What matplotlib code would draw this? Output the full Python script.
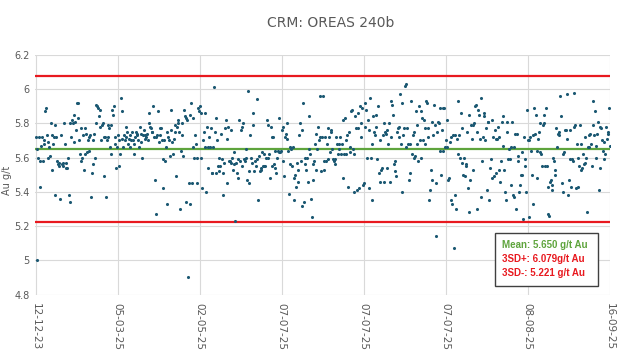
import numpy as np
import matplotlib
matplotlib.use("Agg")
import matplotlib.pyplot as plt
from matplotlib.patches import Rectangle

title = "CRM: OREAS 240b"
y_label = "Au g/t"
tick_labels = ["12-12-23", "05-03-25", "02-05-25", "07-07-25", "07-07-25",
               "07-07-25", "08-08-25", "16-09-25"]
mean_val = 5.650
sd3_plus = 6.079
sd3_minus = 5.221

seg1 = [5.72, 5.65, 5.00, 5.60, 5.72, 5.58, 5.43, 5.67, 5.72, 5.58, 5.70, 5.68, 5.87, 5.89, 5.73, 5.60,
        5.69, 5.66, 5.61, 5.80, 5.53, 5.73, 5.68, 5.72, 5.79, 5.38, 5.72, 5.58, 5.56, 5.57, 5.55, 5.36,
        5.73, 5.56, 5.57, 5.55, 5.80, 5.68, 5.54, 5.57, 5.54, 5.60, 5.38, 5.34, 5.80, 5.72, 5.82, 5.80,
        5.69, 5.85, 5.81, 5.76, 5.92, 5.83, 5.92, 5.70, 5.62, 5.58, 5.77, 5.60, 5.73, 5.53, 5.62, 5.77,
        5.74, 5.63, 5.70, 5.72, 5.64, 5.73, 5.37, 5.51, 5.70, 5.56, 5.74, 5.60, 5.91, 5.80, 5.90, 5.89,
        5.84, 5.78, 5.88, 5.70, 5.79, 5.80, 5.49, 5.72, 5.72, 5.37, 5.70, 5.72, 5.79, 5.77, 5.66, 5.62,
        5.79, 5.88, 5.85, 5.90, 5.72, 5.68, 5.54, 5.66, 5.73, 5.70, 5.55, 5.62, 5.95, 5.87, 5.71, 5.66]
seg2 = [5.73, 5.70, 5.78, 5.72, 5.75, 5.68, 5.71, 5.73, 5.66, 5.70, 5.75, 5.70, 5.62, 5.68, 5.72, 5.75,
        5.73, 5.74, 5.70, 5.66, 5.78, 5.74, 5.69, 5.60, 5.73, 5.76, 5.71, 5.73, 5.72, 5.74, 5.70, 5.86,
        5.80, 5.78, 5.77, 5.75, 5.75, 5.90, 5.72, 5.47, 5.72, 5.27, 5.73, 5.87, 5.69, 5.73, 5.77, 5.77,
        5.70, 5.42, 5.59, 5.70, 5.58, 5.66, 5.33, 5.75, 5.72, 5.70, 5.61, 5.76, 5.88, 5.69, 5.62, 5.71,
        5.79, 5.75, 5.49, 5.78, 5.80, 5.82, 5.75, 5.30, 5.64, 5.80, 5.73, 5.61, 5.88, 5.84, 5.83, 5.34,
        5.82, 4.90, 5.45, 5.33, 5.85, 5.92, 5.45, 5.83, 5.66, 5.60, 5.73, 5.68, 5.60, 5.45, 5.89, 5.87,
        5.90, 5.60, 5.86, 5.42, 5.70, 5.75, 5.66]
seg3 = [5.86, 5.40, 5.78, 5.66, 5.54, 5.72, 5.66, 5.77, 5.51, 5.51, 5.66, 6.01, 5.75, 5.51, 5.83, 5.70,
        5.55, 5.52, 5.60, 5.55, 5.74, 5.59, 5.38, 5.51, 5.57, 5.77, 5.82, 5.45, 5.71, 5.78, 5.58, 5.58,
        5.57, 5.76, 5.60, 5.53, 5.63, 5.56, 5.23, 5.57, 5.51, 5.59, 5.48, 5.82, 5.58, 5.76, 5.55, 5.78,
        5.80, 5.59, 5.58, 5.65, 5.60, 5.47, 5.99, 5.52, 5.45, 5.73, 5.60, 5.57, 5.79, 5.86, 5.52, 5.58,
        5.55, 5.94, 5.59, 5.35, 5.61, 5.52, 5.53, 5.54, 5.63, 5.55, 5.62, 5.55, 5.55, 5.60, 5.82, 5.60,
        5.79, 5.62, 5.48, 5.78, 5.55, 5.72, 5.72, 5.56, 5.54, 5.64, 5.51, 5.60, 5.64, 5.83, 5.63, 5.63,
        5.64, 5.76, 5.58, 5.78, 5.49, 5.72, 5.74, 5.71, 5.80, 5.64, 5.39, 5.56, 5.66, 5.65, 5.55]
seg4 = [5.66, 5.35, 5.48, 5.50, 5.43, 5.57, 5.46, 5.53, 5.73, 5.80, 5.58, 5.76, 5.32, 5.92, 5.34, 5.60,
        5.56, 5.53, 5.60, 5.46, 5.65, 5.84, 5.62, 5.36, 5.25, 5.56, 5.47, 5.58, 5.68, 5.53, 5.74, 5.65,
        5.78, 5.70, 5.96, 5.72, 5.52, 5.72, 5.96, 5.53, 5.58, 5.72, 5.58, 5.68, 5.59, 5.77, 5.72, 5.63,
        5.76, 5.75, 5.65, 5.59, 5.58, 5.56, 5.59, 5.72, 5.68, 5.62, 5.65, 5.68, 5.72, 5.62, 5.68, 5.48,
        5.82, 5.62, 5.83, 5.70, 5.62, 5.73, 5.43, 5.75, 5.66, 5.63, 5.87, 5.88, 5.65, 5.40, 5.62, 5.84,
        5.77, 5.41, 5.86, 5.77, 5.42, 5.90, 5.80, 5.72, 5.89, 5.44, 5.45, 5.78, 5.92, 5.88, 5.60, 5.82,
        5.76, 5.42, 5.95, 5.60, 5.68, 5.35, 5.84, 5.75, 5.73, 5.78]
seg5 = [5.85, 5.59, 5.90, 5.51, 5.46, 5.70, 5.53, 5.54, 5.73, 5.80, 5.46, 5.75, 5.74, 5.54, 5.76, 5.68,
        5.80, 5.46, 5.93, 5.72, 5.91, 5.85, 5.56, 5.52, 5.58, 5.49, 5.75, 5.77, 5.72, 5.78, 5.97, 5.68,
        5.92, 5.40, 5.73, 5.77, 6.02, 5.66, 6.03, 5.77, 5.68, 5.47, 5.68, 5.51, 5.93, 5.62, 5.73, 5.60,
        5.75, 5.61, 5.87, 5.68, 5.79, 5.58, 5.90, 5.70, 5.87, 5.60, 5.83, 5.70, 5.82, 5.68, 5.77, 5.93,
        5.92, 5.72, 5.77, 5.35, 5.41, 5.53, 5.47, 5.81, 5.73, 5.91, 5.79, 5.14, 5.45, 5.75, 5.81, 5.80,
        5.64, 5.89, 5.50, 5.76, 5.89, 5.64, 5.89, 5.66, 5.70, 5.66, 5.82, 5.47, 5.48, 5.69, 5.72, 5.35,
        5.33, 5.73, 5.07, 5.38, 5.73, 5.30, 5.71, 5.62, 5.93, 5.73, 5.60, 5.86]
seg6 = [5.57, 5.77, 5.50, 5.60, 5.49, 5.55, 5.56, 5.75, 5.42, 5.85, 5.28, 5.47, 5.79, 5.71, 5.79, 5.53,
        5.80, 5.90, 5.91, 5.30, 5.75, 5.88, 5.85, 5.71, 5.95, 5.37, 5.58, 5.72, 5.86, 5.84, 5.70, 5.77,
        5.41, 5.81, 5.81, 5.35, 5.54, 5.59, 5.48, 5.82, 5.72, 5.49, 5.76, 5.71, 5.51, 5.71, 5.78, 5.72,
        5.53, 5.46, 5.58, 5.81, 5.67, 5.84, 5.53, 5.40, 5.35, 5.75, 5.81, 5.59, 5.65, 5.59, 5.66, 5.44,
        5.81, 5.38, 5.66, 5.37, 5.74, 5.30, 5.74, 5.58, 5.61, 5.40, 5.44, 5.50, 5.50, 5.63, 5.24, 5.72,
        5.59, 5.55, 5.40, 5.88, 5.70, 5.25, 5.70, 5.72, 5.64, 5.50, 5.73, 5.33, 5.89, 5.74, 5.85, 5.48,
        5.64, 5.71, 5.75, 5.63, 5.80, 5.62, 5.55, 5.79, 5.85, 5.80, 5.55, 5.89, 5.55]
seg7 = [5.27, 5.43, 5.26, 5.46, 5.47, 5.44, 5.41, 5.60, 5.58, 5.53, 5.50, 5.77, 5.66, 5.74, 5.75, 5.73,
        5.96, 5.84, 5.45, 5.62, 5.40, 5.63, 5.76, 5.76, 5.71, 5.97, 5.38, 5.47, 5.59, 5.76, 5.43, 5.59,
        5.58, 5.78, 5.98, 5.79, 5.42, 5.68, 5.60, 5.43, 5.55, 5.79, 5.53, 5.68, 5.54, 5.62, 5.56, 5.57,
        5.72, 5.60, 5.28, 5.66, 5.66, 5.73, 5.74, 5.68, 5.55, 5.79, 5.93, 5.73, 5.87, 5.67, 5.60, 5.74,
        5.81, 5.41, 5.54, 5.78, 5.77, 5.70, 5.64, 5.59, 5.69, 5.62, 5.78, 5.71, 5.75, 5.74, 5.89, 5.67]

values = np.array(seg1 + seg2 + seg3 + seg4 + seg5 + seg6 + seg7)
n = len(values)
x = np.arange(n)

fig = plt.figure(figsize=(6.24, 3.54), dpi=100)
ax = fig.add_axes([0.056, 0.168, 0.922, 0.677])

grid_c = "#d9d9d9"
txt_c = "#595959"

ax.scatter(x, values, s=5, color="#1b5872", zorder=3, linewidths=0)
ax.axhline(mean_val, color="#5ea43c", lw=1.6, zorder=2)
ax.axhline(sd3_plus, color="#e8191f", lw=1.6, zorder=2)
ax.axhline(sd3_minus, color="#e8191f", lw=1.6, zorder=2)

ax.set_ylim(4.8, 6.2)
ax.set_yticks([4.8, 5.0, 5.2, 5.4, 5.6, 5.8, 6.0, 6.2])
ax.set_yticklabels(["4.8", "5", "5.2", "5.4", "5.6", "5.8", "6", "6.2"])
ticks = np.linspace(0, n - 1, len(tick_labels))
ax.set_xticks(ticks)
ax.set_xticklabels(tick_labels, rotation=270, ha="center", va="top")
ax.set_xlim(-1, n - 1 + 0.5)

ax.grid(True, color=grid_c, lw=0.8, zorder=0)
for s in ax.spines.values():
    s.set_visible(False)
ax.tick_params(axis="both", length=0, labelsize=7, labelcolor=txt_c, pad=4)
ax.tick_params(axis="x", pad=6, labelsize=7.5)

fig.text(0.012, 0.49, y_label, rotation=90, ha="center", va="center",
         fontsize=7, color=txt_c)
fig.text(0.53, 0.935, title, ha="center", va="center", fontsize=10, color=txt_c)

rect = Rectangle((0.80, 0.035), 0.179, 0.221, transform=ax.transAxes,
                 facecolor="white", edgecolor="#404040", lw=1.0, zorder=5)
ax.add_patch(rect)
fam = ["Liberation Sans", "DejaVu Sans"]
ax.text(0.812, 0.206, "Mean: 5.650 g/t Au", transform=ax.transAxes, fontsize=7,
        fontweight="bold", color="#5ea43c", va="center", ha="left", zorder=6, family=fam)
ax.text(0.812, 0.148, "3SD+: 6.079g/t Au", transform=ax.transAxes, fontsize=7,
        fontweight="bold", color="#e8191f", va="center", ha="left", zorder=6, family=fam)
ax.text(0.812, 0.090, "3SD-: 5.221 g/t Au", transform=ax.transAxes, fontsize=7,
        fontweight="bold", color="#e8191f", va="center", ha="left", zorder=6, family=fam)

fig.savefig("out.png", dpi=100)
